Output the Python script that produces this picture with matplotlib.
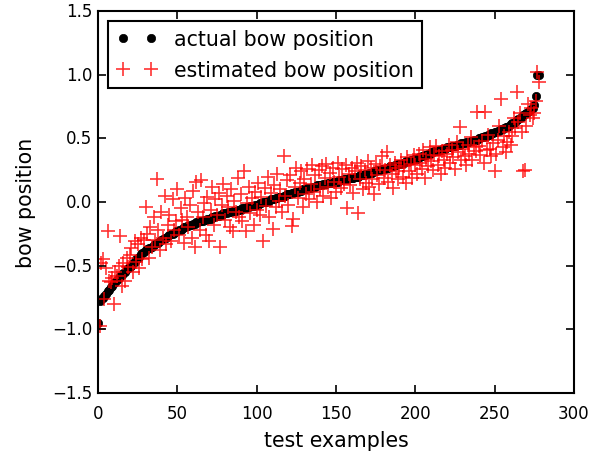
import matplotlib
matplotlib.use('Agg')
import matplotlib.pyplot as plt
import numpy as np

plt.style.use('classic')

# actual bow position (sorted) for each test example
actual = [
    -0.95, -0.78, -0.76, -0.75, -0.74, -0.72, -0.70, -0.69, -0.67, -0.66,
    -0.64, -0.63, -0.61, -0.60, -0.58, -0.57, -0.56, -0.55, -0.53, -0.52,
    -0.51, -0.50, -0.48, -0.47, -0.45, -0.44, -0.43, -0.41, -0.40, -0.39,
    -0.38, -0.37, -0.36, -0.36, -0.35, -0.34, -0.33, -0.32, -0.32, -0.31,
    -0.30, -0.29, -0.28, -0.28, -0.27, -0.26, -0.25, -0.25, -0.24, -0.23,
    -0.23, -0.22, -0.22, -0.21, -0.20, -0.20, -0.19, -0.19, -0.18, -0.18,
    -0.17, -0.17, -0.16, -0.16, -0.15, -0.15, -0.15, -0.14, -0.14, -0.13,
    -0.13, -0.13, -0.12, -0.12, -0.11, -0.11, -0.11, -0.10, -0.10, -0.09,
    -0.09, -0.09, -0.08, -0.08, -0.08, -0.07, -0.07, -0.07, -0.06, -0.06,
    -0.06, -0.05, -0.05, -0.05, -0.04, -0.04, -0.03, -0.03, -0.03, -0.02,
    -0.02, -0.02, -0.01, -0.01, 0.00, 0.00, 0.00, 0.01, 0.01, 0.02,
    0.02, 0.02, 0.03, 0.03, 0.04, 0.04, 0.04, 0.05, 0.05, 0.06,
    0.06, 0.06, 0.07, 0.07, 0.08, 0.08, 0.08, 0.09, 0.09, 0.10,
    0.10, 0.10, 0.11, 0.11, 0.11, 0.12, 0.12, 0.12, 0.13, 0.13,
    0.13, 0.13, 0.14, 0.14, 0.14, 0.15, 0.15, 0.15, 0.16, 0.16,
    0.16, 0.16, 0.17, 0.17, 0.17, 0.18, 0.18, 0.18, 0.19, 0.19,
    0.19, 0.19, 0.20, 0.20, 0.20, 0.21, 0.21, 0.21, 0.22, 0.22,
    0.22, 0.23, 0.23, 0.23, 0.24, 0.24, 0.25, 0.25, 0.25, 0.26,
    0.26, 0.26, 0.27, 0.27, 0.28, 0.28, 0.28, 0.29, 0.29, 0.30,
    0.30, 0.30, 0.31, 0.31, 0.32, 0.32, 0.32, 0.33, 0.33, 0.34,
    0.34, 0.34, 0.35, 0.35, 0.36, 0.36, 0.37, 0.37, 0.38, 0.38,
    0.39, 0.39, 0.40, 0.40, 0.40, 0.41, 0.41, 0.42, 0.42, 0.42,
    0.43, 0.43, 0.43, 0.44, 0.44, 0.44, 0.45, 0.45, 0.45, 0.46,
    0.46, 0.46, 0.47, 0.47, 0.47, 0.48, 0.48, 0.49, 0.49, 0.49,
    0.50, 0.50, 0.51, 0.51, 0.52, 0.52, 0.53, 0.53, 0.54, 0.54,
    0.55, 0.55, 0.56, 0.56, 0.57, 0.57, 0.58, 0.59, 0.59, 0.60,
    0.61, 0.62, 0.62, 0.63, 0.64, 0.65, 0.66, 0.67, 0.68, 0.69,
    0.70, 0.71, 0.72, 0.73, 0.74, 0.76, 0.83, 1.00, 1.00,
]

# estimated bow position for the same examples
estimated = [
    -1.00, -0.97, -0.48, -0.45, -0.76, -0.52, -0.23, -0.62, -0.63, -0.60,
    -0.80, -0.55, -0.58, -0.50, -0.27, -0.66, -0.48, -0.62, -0.44, -0.51,
    -0.42, -0.36, -0.55, -0.31, -0.47, -0.33, -0.52, -0.28, -0.45, -0.30,
    -0.04, -0.25, -0.44, -0.20, -0.35, -0.12, -0.30, 0.18, -0.22, -0.38,
    -0.08, -0.28, 0.05, -0.33, -0.18, -0.10, -0.31, 0.02, -0.22, -0.15,
    0.10, -0.26, -0.05, -0.14, -0.32, 0.03, -0.12, -0.20, -0.02, -0.28,
    0.09, -0.35, 0.16, -0.08, -0.22, 0.17, -0.12, -0.01, -0.26, 0.04,
    -0.31, -0.06, 0.12, -0.18, 0.02, -0.10, 0.07, -0.35, -0.02, 0.14,
    -0.14, 0.05, -0.04, -0.20, 0.10, -0.23, 0.01, -0.08, 0.19, -0.12,
    0.06, -0.15, 0.24, -0.23, -0.01, 0.12, -0.09, 0.03, -0.18, 0.08,
    -0.06, 0.15, -0.10, 0.04, -0.31, 0.11, -0.03, 0.20, -0.12, 0.07,
    -0.21, 0.13, -0.04, 0.22, 0.01, 0.10, -0.08, 0.36, 0.05, 0.17,
    -0.02, 0.21, -0.19, -0.13, 0.12, 0.27, 0.03, 0.15, 0.24, -0.04,
    0.18, 0.06, 0.26, 0.02, 0.14, 0.29, 0.08, 0.21, 0.00, 0.25,
    0.10, 0.28, 0.05, 0.19, 0.30, 0.12, 0.23, 0.03, 0.27, 0.16,
    0.08, 0.31, 0.20, 0.11, 0.26, 0.14, 0.29, -0.05, 0.22, 0.13,
    0.27, 0.07, 0.24, 0.31, -0.09, 0.18, 0.28, 0.10, 0.25, 0.15,
    0.32, 0.12, 0.27, 0.18, 0.06, 0.30, 0.21, 0.14, 0.28, 0.36,
    0.19, 0.25, 0.39, 0.16, 0.29, 0.22, 0.11, 0.31, 0.24, 0.18,
    0.27, 0.33, 0.20, 0.28, 0.15, 0.35, 0.24, 0.30, 0.19, 0.37,
    0.29, 0.22, 0.38, 0.31, 0.26, 0.41, 0.19, 0.34, 0.28, 0.43,
    0.32, 0.25, 0.37, 0.44, 0.29, 0.36, 0.22, 0.40, 0.33, 0.27,
    0.38, 0.45, 0.31, 0.41, 0.35, 0.26, 0.47, 0.39, 0.59, 0.33,
    0.42, 0.36, 0.29, 0.45, 0.38, 0.51, 0.33, 0.43, 0.40, 0.71,
    0.44, 0.37, 0.48, 0.31, 0.71, 0.41, 0.53, 0.42, 0.36, 0.46,
    0.24, 0.38, 0.49, 0.60, 0.81, 0.43, 0.52, 0.39, 0.47, 0.55,
    0.45, 0.52, 0.66, 0.58, 0.86, 0.63, 0.70, 0.55, 0.24, 0.25,
    0.60, 0.77, 0.68, 0.74, 0.66, 0.70, 0.79, 1.02, 0.94,
]

examples = np.arange(len(actual))

fig = plt.figure(figsize=(6.04, 4.52), dpi=100, facecolor='white')
ax = fig.add_axes([0.1623, 0.1283, 0.788, 0.8452])

ax.plot(examples, actual, 'o', color='black', markersize=6,
        markeredgewidth=0.5, label='actual bow position')
ax.plot(examples, estimated, '+', color='red', markersize=9.5,
        markeredgewidth=1.2, alpha=0.8, label='estimated bow position')

ax.set_xlim(0, 300)
ax.set_ylim(-1.5, 1.5)
ax.set_xticks(np.arange(0, 301, 50))
ax.set_yticks(np.arange(-1.5, 1.51, 0.5))
ax.tick_params(labelsize=12, length=6, width=1.2)
ax.tick_params(axis='x', pad=8)
for s in ax.spines.values():
    s.set_linewidth(1.5)

ax.set_xlabel('test examples', fontsize=14.8, labelpad=6)
ax.set_ylabel('bow position', fontsize=14.8, labelpad=12)

leg = ax.legend(loc='upper left', numpoints=2, fontsize=14.8)
leg.get_frame().set_linewidth(1.5)

fig.savefig('out.png', dpi=100, facecolor='white')
